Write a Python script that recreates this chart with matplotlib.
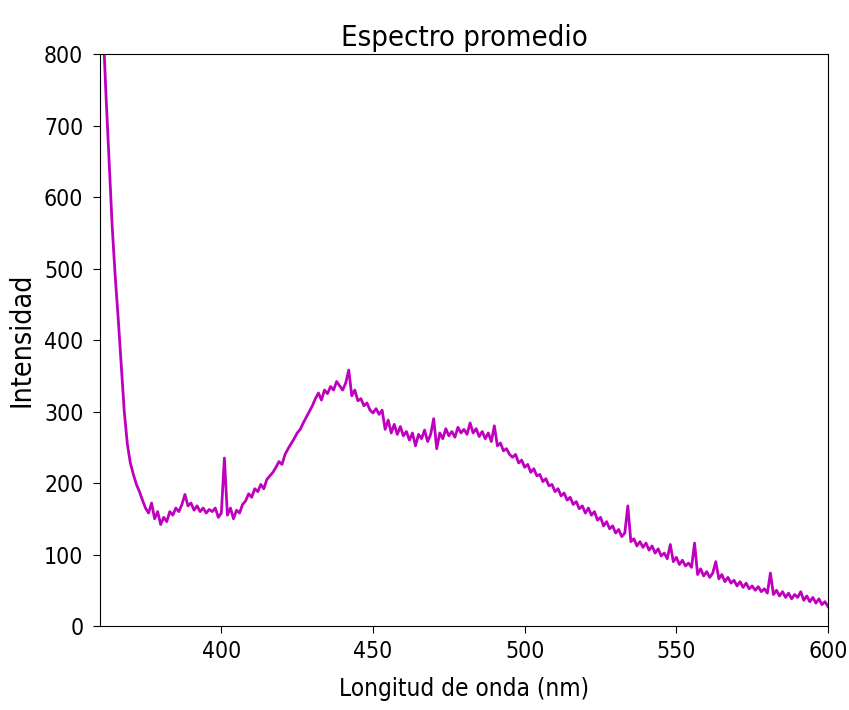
import numpy as np
import matplotlib
matplotlib.use('Agg')
import matplotlib.pyplot as plt

# wavelength (nm), 1 nm steps
wl = np.arange(360, 601)

# intensity, one value per nm
inten = [
    960, 840, 740, 650, 560, 490, 430, 365, 300, 255,   # 360-369
    228, 212, 198, 188, 176, 165, 158, 172, 150, 160,   # 370-379
    142, 152, 146, 160, 155, 165, 160, 170, 184, 168,   # 380-389
    172, 162, 168, 160, 165, 158, 163, 160, 165, 152,   # 390-399
    158, 235, 155, 165, 150, 162, 158, 170, 175, 185,   # 400-409
    180, 192, 188, 198, 192, 205, 210, 215, 222, 230,   # 410-419
    226, 240, 248, 255, 262, 270, 275, 284, 292, 300,   # 420-429
    308, 318, 326, 316, 330, 325, 335, 330, 342, 336,   # 430-439
    330, 340, 358, 322, 330, 315, 318, 308, 312, 302,   # 440-449
    298, 304, 296, 302, 275, 288, 270, 282, 268, 279,   # 450-459
    266, 272, 260, 270, 252, 268, 262, 274, 258, 268,   # 460-469
    290, 248, 270, 262, 276, 266, 272, 264, 278, 270,   # 470-479
    275, 268, 284, 270, 276, 265, 272, 262, 270, 258,   # 480-489
    280, 252, 256, 245, 248, 240, 236, 240, 228, 232,   # 490-499
    222, 226, 215, 220, 210, 212, 202, 206, 196, 198,   # 500-509
    188, 192, 182, 186, 176, 180, 170, 174, 164, 168,   # 510-519
    158, 165, 155, 160, 148, 152, 140, 146, 136, 140,   # 520-529
    130, 135, 125, 130, 168, 118, 122, 112, 118, 110,   # 530-539
    116, 106, 112, 102, 108, 98, 102, 94, 114, 90,      # 540-549
    96, 86, 92, 84, 88, 82, 116, 72, 80, 70,            # 550-559
    76, 68, 74, 90, 66, 72, 62, 68, 60, 64,             # 560-569
    56, 62, 54, 60, 52, 56, 50, 55, 48, 52,             # 570-579
    46, 74, 44, 50, 42, 48, 40, 46, 38, 44,             # 580-589
    40, 48, 36, 42, 34, 40, 32, 38, 30, 34,             # 590-599
    27,                                                 # 600
]

plt.rcParams['font.family'] = 'DejaVu Sans'
plt.rcParams['font.stretch'] = 'condensed'

fig = plt.figure(figsize=(8.49, 7.10), dpi=100)
ax = fig.add_axes([0.1178, 0.1183, 0.8575, 0.8056])
ax.plot(wl, inten, color='m', lw=2.0)
ax.set_xlim(360, 600)
ax.set_ylim(0, 800)
ax.set_xticks([400, 450, 500, 550, 600])
ax.set_yticks(range(0, 801, 100))
ax.tick_params(labelsize=16.5, length=5)
ax.tick_params(axis='y', pad=7)
ax.tick_params(axis='x', pad=5)
ax.set_title('Espectro promedio', fontsize=21, pad=6)
ax.set_xlabel('Longitud de onda (nm)', fontsize=17.5, labelpad=10)
ax.set_ylabel('Intensidad', fontsize=20.5, labelpad=6)
fig.savefig('out.png', dpi=100)
